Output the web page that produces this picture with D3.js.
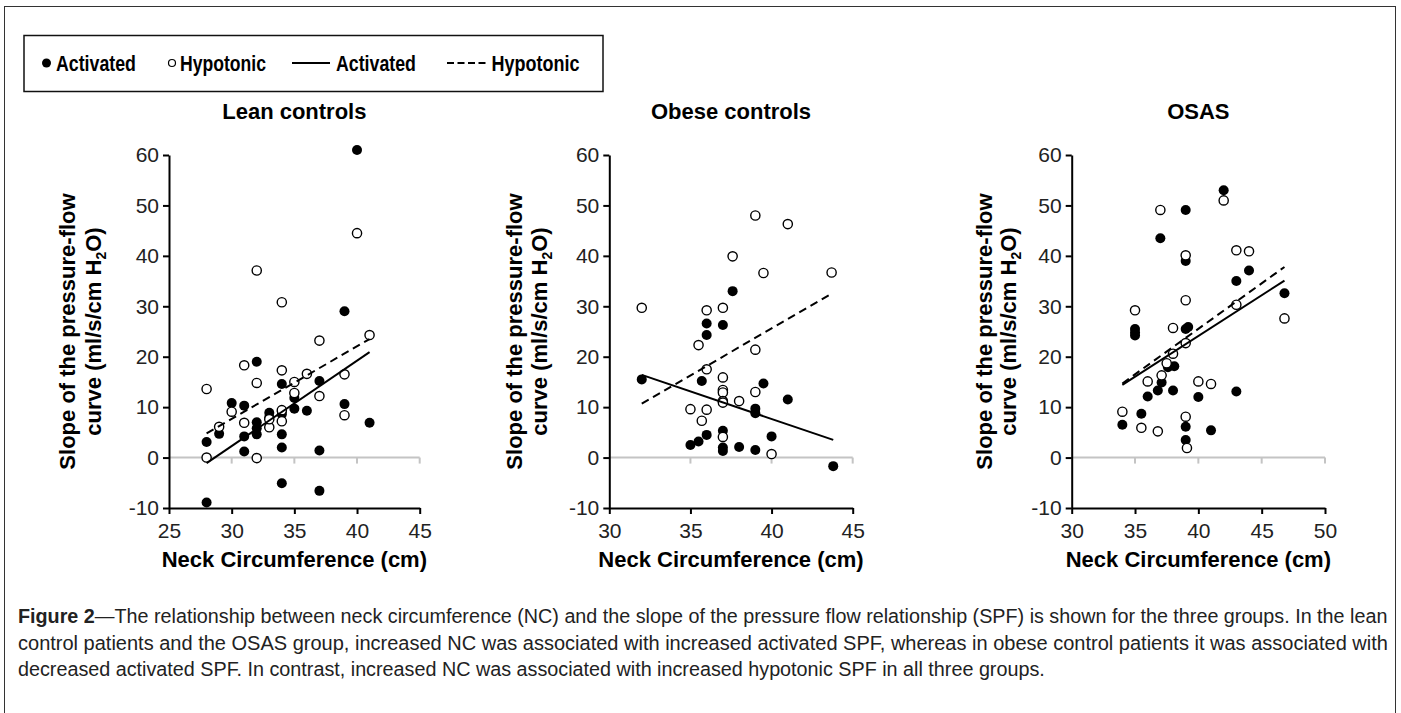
<!DOCTYPE html>
<html>
<head>
<meta charset="utf-8">
<script src="https://cdnjs.cloudflare.com/ajax/libs/d3/7.8.5/d3.min.js"></script>
<style>
  body { margin: 0; background: #fff; }
  svg { display: block; }
</style>
</head>
<body>
<script>
// ---- data ----
var titles = ["Lean controls", "Obese controls", "OSAS"];
var xDomains = [[25, 45], [30, 45], [30, 50]];
var xTicks = [[25, 30, 35, 40, 45], [30, 35, 40, 45], [30, 35, 40, 45, 50]];
var yTicks = [-10, 0, 10, 20, 30, 40, 50, 60];

// [neck circumference, slope]
var leanActivated = [[28,3.1],[28,-8.9],[29,4.7],[30,10.8],[31,10.3],[31,4.2],[31,1.2],[32,19],[32,7],[32,5.8],[32,4.6],
  [33,8.9],[33,8.0],[34,14.6],[34,9.1],[34,8.6],[34,4.6],[34,2],[34,-5.1],[35,11.8],[35,9.7],[36,9.3],[37,15.2],
  [37,1.4],[37,-6.6],[39,29],[39,10.6],[40,61],[41,6.9]];
var leanHypotonic = [[28,13.6],[28,0],[29,6.1],[30,9.1],[31,18.3],[31,6.9],[32,14.8],[32,37.1],[32,-0.1],[33,6],[33,7.6],
  [34,30.8],[34,17.3],[34,7.2],[34,9.4],[35,15],[35,12.8],[36,16.6],[37,23.2],[37,12.2],[39,16.5],[39,8.4],[40,44.5],[41,24.3]];

var obeseActivated = [[32,15.5],[35,2.5],[35.5,3.2],[35.7,15.2],[36,26.6],[36,24.3],[36,4.5],[37,26.3],[37,5.3],[37,2],
  [37,1.3],[37.6,33],[38,2.1],[39,9.7],[39,8.8],[39,1.5],[39.5,14.7],[40,4.2],[41,11.5],[43.8,-1.7]];
var obeseHypotonic = [[32,29.7],[35,9.6],[35.5,22.3],[35.7,7.3],[36,29.2],[36,17.5],[36,9.5],[37,29.7],[37,15.9],[37,13.4],
  [37,12.9],[37,11.2],[37,10.9],[37,4.1],[37.6,39.9],[38,11.2],[39,48],[39,21.4],[39,13],[39.5,36.6],[40,0.7],[41,46.3],[43.7,36.7]];

var osasActivated = [[34,6.5],[35,25.5],[35,24.8],[35,24.2],[35.5,8.7],[36,12.1],[36.8,13.3],[37,43.5],[37.1,14.9],[37.6,17.9],
  [38.1,18.1],[38,13.3],[39,49.1],[39,39],[39,25.5],[39.2,25.9],[39,6.1],[39,3.5],[40,12],[41,5.4],[42,53],[43,35],
  [43,13.1],[44,37.1],[46.8,32.6]];
var osasHypotonic = [[34,9.1],[35,29.2],[35.5,5.9],[36,15.1],[36.8,5.2],[37,49.1],[37.1,16.3],[37.5,18.7],[38,20.6],[38,25.7],
  [39,40.1],[39,31.2],[39,22.7],[39,8.1],[39.1,1.9],[40,15.1],[41,14.6],[42,51],[43,41.1],[43,30.3],[44,40.9],[46.8,27.6]];

// trend lines: [start, end]
var leanActivatedFit = [[28,-1.1],[41,20.9]];
var leanHypotonicFit = [[28,4.8],[41,23.5]];
var obeseActivatedFit = [[32,16.4],[43.8,3.5]];
var obeseHypotonicFit = [[32,10.7],[43.7,32.5]];
var osasActivatedFit = [[34,14.4],[46.8,35.1]];
var osasHypotonicFit = [[34,14.7],[46.8,37.8]];

var activatedSets = [leanActivated, obeseActivated, osasActivated];
var hypotonicSets = [leanHypotonic, obeseHypotonic, osasHypotonic];
var activatedFits = [leanActivatedFit, obeseActivatedFit, osasActivatedFit];
var hypotonicFits = [leanHypotonicFit, obeseHypotonicFit, osasHypotonicFit];

var legendLabels = ["Activated", "Hypotonic", "Activated", "Hypotonic"];

var captionLines = [
  "The relationship between neck circumference (NC) and the slope of the pressure flow relationship (SPF) is shown for the three groups. In the lean",
  "control patients and the OSAS group, increased NC was associated with increased activated SPF, whereas in obese control patients it was associated with",
  "decreased activated SPF. In contrast, increased NC was associated with increased hypotonic SPF in all three groups."
];

// ---- layout ----
var W = 1401, H = 713;
var plotTop = 155, plotBottom = 508;
var plotX = [[169, 419.7], [609.3, 852.7], [1071.7, 1325]];
var yLabelOff = [[-102, -76], [-95, -70], [-87, -63]];
var sans = "'Liberation Sans', Arial, sans-serif";

var svg = d3.select("body").append("svg")
  .attr("width", W)
  .attr("height", H);

// squeeze a text horizontally so it spans `width` px (condensed look)
function squeeze(sel, x, y, width) {
  var natural = sel.node().getComputedTextLength();
  var k = Math.min(1, width / natural);
  sel.attr("transform", "translate(" + x + "," + y + ") scale(" + k + ",1)");
}

// outer frame
svg.append("rect")
  .attr("x", 4.5).attr("y", 6.5)
  .attr("width", 1391).attr("height", 730)
  .attr("fill", "none").attr("stroke", "#333").attr("stroke-width", 1);

// legend
var leg = svg.append("g");
var legY = 63;
leg.append("rect")
  .attr("x", 24).attr("y", 35.5).attr("width", 579).attr("height", 56)
  .attr("fill", "none").attr("stroke", "#111").attr("stroke-width", 1.5);
leg.append("circle").attr("cx", 46.5).attr("cy", legY).attr("r", 4.5).attr("fill", "#000");
leg.append("circle").attr("cx", 172).attr("cy", legY).attr("r", 3.5).attr("fill", "#fff")
  .attr("stroke", "#000").attr("stroke-width", 1.2);
leg.append("line").attr("x1", 292).attr("x2", 330).attr("y1", legY).attr("y2", legY)
  .attr("stroke", "#000").attr("stroke-width", 2);
leg.append("line").attr("x1", 447).attr("x2", 486).attr("y1", legY).attr("y2", legY)
  .attr("stroke", "#000").attr("stroke-width", 2).attr("stroke-dasharray", "7,3.5");
var legX = [56, 180, 336, 491.5];
var legW = [80, 86, 80, 88];
legendLabels.forEach(function(lab, i) {
  var t = leg.append("text")
    .attr("font-family", sans)
    .attr("font-weight", "bold")
    .attr("font-size", "22px")
    .text(lab);
  squeeze(t, legX[i], legY + 8, legW[i]);
});

// panels
titles.forEach(function(title, i) {
  var x = d3.scaleLinear().domain(xDomains[i]).range(plotX[i]);
  var y = d3.scaleLinear().domain([-10, 60]).range([plotBottom, plotTop]);
  var g = svg.append("g");
  var cx = (plotX[i][0] + plotX[i][1]) / 2;

  // gray zero line with its ticks
  g.append("line")
    .attr("x1", x.range()[0]).attr("x2", x.range()[1])
    .attr("y1", y(0)).attr("y2", y(0))
    .attr("stroke", "#c4c4c4").attr("stroke-width", 2);
  g.selectAll("line.zt")
    .data(xTicks[i].slice(1))
    .enter().append("line")
    .attr("class", "zt")
    .attr("x1", function(d) { return x(d); }).attr("x2", function(d) { return x(d); })
    .attr("y1", y(0)).attr("y2", y(0) + 6)
    .attr("stroke", "#c4c4c4").attr("stroke-width", 2);

  // axes
  var fmt = function(d) { return String(d); }; // plain hyphen for -10
  var yAxis = g.append("g")
    .attr("transform", "translate(" + plotX[i][0] + ",0)")
    .call(d3.axisLeft(y).tickValues(yTicks).tickFormat(fmt).tickSize(6).tickSizeOuter(0).tickPadding(4));
  var xAxis = g.append("g")
    .attr("transform", "translate(0," + plotBottom + ")")
    .call(d3.axisBottom(x).tickValues(xTicks[i]).tickFormat(fmt).tickSize(6).tickSizeOuter(0).tickPadding(9));
  [yAxis, xAxis].forEach(function(a) {
    a.select(".domain").attr("stroke", "#000").attr("stroke-width", 2);
    a.selectAll(".tick line").attr("stroke", "#000").attr("stroke-width", 2);
    a.selectAll(".tick text")
      .attr("fill", "#222")
      .attr("font-family", sans)
      .attr("font-size", "21px");
  });

  // markers
  g.selectAll("circle.act")
    .data(activatedSets[i])
    .enter().append("circle")
    .attr("class", "act")
    .attr("cx", function(d) { return x(d[0]); })
    .attr("cy", function(d) { return y(d[1]); })
    .attr("r", 5)
    .attr("fill", "#000");
  g.selectAll("circle.hyp")
    .data(hypotonicSets[i])
    .enter().append("circle")
    .attr("class", "hyp")
    .attr("cx", function(d) { return x(d[0]); })
    .attr("cy", function(d) { return y(d[1]); })
    .attr("r", 4.6)
    .attr("fill", "#fff")
    .attr("stroke", "#000")
    .attr("stroke-width", 1.4);

  // trend lines
  var line = d3.line().x(function(d) { return x(d[0]); }).y(function(d) { return y(d[1]); });
  g.append("path").attr("d", line(activatedFits[i]))
    .attr("fill", "none").attr("stroke", "#000").attr("stroke-width", 2);
  g.append("path").attr("d", line(hypotonicFits[i]))
    .attr("fill", "none").attr("stroke", "#000").attr("stroke-width", 2)
    .attr("stroke-dasharray", "8,5");

  // title
  g.append("text")
    .attr("x", cx).attr("y", 119)
    .attr("text-anchor", "middle")
    .attr("font-family", sans).attr("font-weight", "bold").attr("font-size", "22px")
    .text(title);

  // x label
  g.append("text")
    .attr("x", cx).attr("y", 567)
    .attr("text-anchor", "middle")
    .attr("font-family", sans).attr("font-weight", "bold").attr("font-size", "22px")
    .text("Neck Circumference (cm)");

  // y label, two lines
  var midY = (plotTop + plotBottom) / 2;
  g.append("text")
    .attr("transform", "translate(" + (plotX[i][0] + yLabelOff[i][0]) + "," + midY + ") rotate(-90)")
    .attr("text-anchor", "middle").attr("dy", "0.35em")
    .attr("font-family", sans).attr("font-weight", "bold").attr("font-size", "22px")
    .text("Slope of the pressure-flow");
  var t2 = g.append("text")
    .attr("transform", "translate(" + (plotX[i][0] + yLabelOff[i][1]) + "," + midY + ") rotate(-90)")
    .attr("text-anchor", "middle").attr("dy", "0.35em")
    .attr("font-family", sans).attr("font-weight", "bold").attr("font-size", "22px");
  t2.append("tspan").text("curve (ml/s/cm H");
  t2.append("tspan").attr("font-size", "14px").attr("dy", 5).text("2");
  t2.append("tspan").attr("dy", -5).text("O)");
});

// caption
var capWidths = [1370, 1371, 1028];
captionLines.forEach(function(txt, i) {
  var t = svg.append("text")
    .attr("font-family", sans)
    .attr("font-size", "21px")
    .attr("fill", "#222");
  if (i === 0) {
    t.append("tspan").attr("font-weight", "bold").text("Figure 2");
    t.append("tspan").text("\u2014" + txt);
  } else {
    t.text(txt);
  }
  squeeze(t, 18, 623 + i * 26.5, capWidths[i]);
});
</script>
</body>
</html>
